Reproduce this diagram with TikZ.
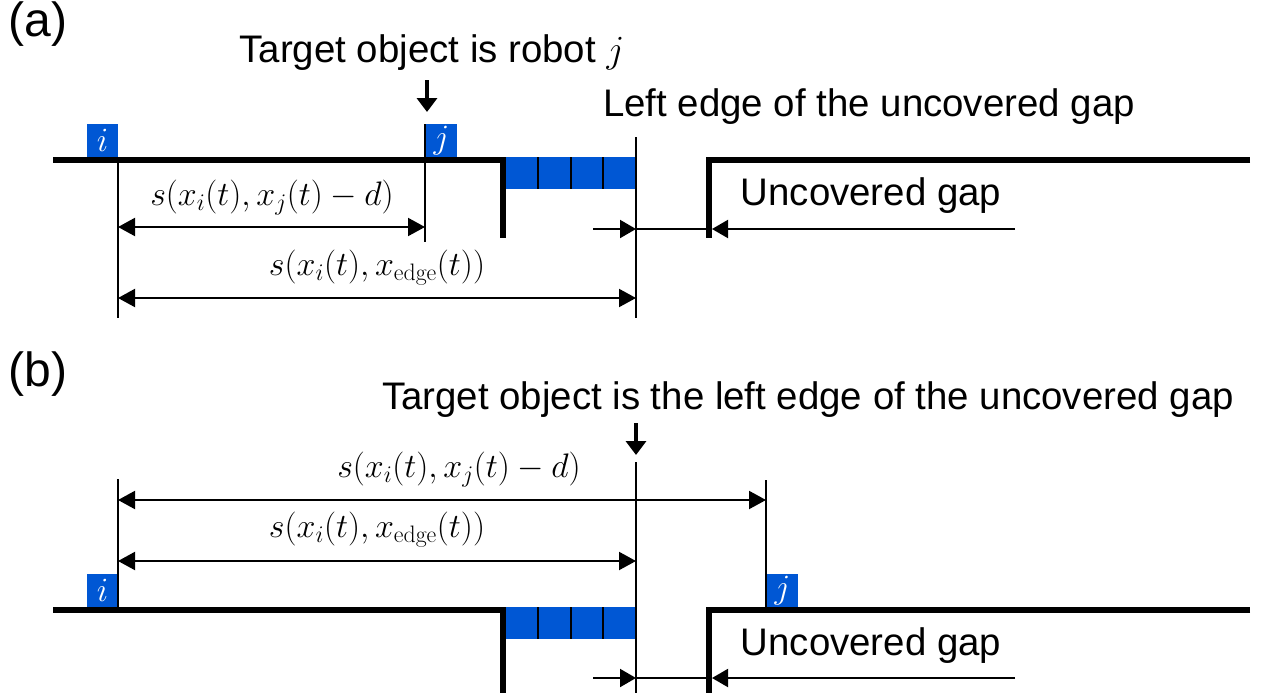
\RequirePackage{fix-cm}
\documentclass[tikz,border=0pt]{standalone}
\usepackage[no-math]{fontspec}
\setmainfont{Liberation Sans}
\usetikzlibrary{arrows.meta}
\definecolor{robotblue}{RGB}{0,87,212}
\tikzset{
  ground/.style={line width=6pt, line join=miter},
  refline/.style={line width=2pt},
  dimline/.style={line width=2pt, {Triangle[length=17pt,width=18pt]}-{Triangle[length=17pt,width=18pt]}},
  gaparrow/.style={line width=2pt, -{Triangle[length=16pt,width=18pt]}},
  plainline/.style={line width=2pt},
  downarrow/.style={line width=4pt, -{Triangle[length=14pt,width=20pt]}},
  robot/.style={rectangle, fill=robotblue, text=white, inner sep=0pt, minimum width=31pt, minimum height=33pt, font=\fontsize{34}{36}\selectfont},
  bar/.style={rectangle, fill=robotblue, inner sep=0pt, minimum width=130pt, minimum height=32pt},
  divider/.style={line width=2pt},
  sanslabel/.style={inner sep=0pt, font=\fontsize{38.4}{40}\selectfont},
  panellabel/.style={inner sep=0pt, font=\fontsize{48}{50}\selectfont},
  mathlabel/.style={inner sep=0pt, font=\fontsize{34}{36}\selectfont},
}
\begin{document}
\begin{tikzpicture}[x=1pt,y=-1pt]
\useasboundingbox (0,0) rectangle (1263,693);
% ---------------- panel (a) ----------------
\node[panellabel] (pa) at (38,24) {(a)};
\node[sanslabel] (ta) at (432,53) {Target object is robot $j$};
\coordinate (da1) at (427,80);
\coordinate (da2) at (427,112);
\draw[downarrow] (da1) -- (da2);
\node[sanslabel] (lea) at (869,107) {Left edge of the uncovered gap};
% blue bar
\node[bar] (bara) at (571,173) {};
\coordinate (bd1t) at (538,157); \coordinate (bd1b) at (538,189);
\coordinate (bd2t) at (571,157); \coordinate (bd2b) at (571,189);
\coordinate (bd3t) at (603,157); \coordinate (bd3b) at (603,189);
\draw[divider] (bd1t) -- (bd1b);
\draw[divider] (bd2t) -- (bd2b);
\draw[divider] (bd3t) -- (bd3b);
% robots
\node[robot] (ria) at (102.5,140.5) {$i$};
\node[robot] (rja) at (441.5,140.5) {$j$};
% ground
\coordinate (gal1) at (53,160); \coordinate (gal2) at (503,160); \coordinate (gal3) at (503,238);
\draw[ground] (gal1) -- (gal2) -- (gal3);
\coordinate (gar1) at (1250,160); \coordinate (gar2) at (709,160); \coordinate (gar3) at (709,238);
\draw[ground] (gar1) -- (gar2) -- (gar3);
% reference lines
\coordinate (vai1) at (118,157); \coordinate (vai2) at (118,318);
\draw[refline] (vai1) -- (vai2);
\coordinate (vaj1) at (425,124); \coordinate (vaj2) at (425,242);
\draw[refline] (vaj1) -- (vaj2);
\coordinate (vae1) at (636,137); \coordinate (vae2) at (636,318);
\draw[refline] (vae1) -- (vae2);
% dimension arrows
\coordinate (a1l) at (118,227); \coordinate (a1r) at (425,227);
\draw[dimline] (a1l) -- (a1r);
\node[mathlabel] (ma1) at (272,198) {$s(x_i(t),x_j(t)-d)$};
\coordinate (a2l) at (118,298); \coordinate (a2r) at (636,298);
\draw[dimline] (a2l) -- (a2r);
\node[mathlabel] (ma2) at (377,268) {$s(x_i(t),x_{\mathrm{edge}}(t))$};
% gap arrows
\coordinate (ga1) at (593,229); \coordinate (ga2) at (636,229);
\coordinate (ga3) at (709,229); \coordinate (ga4) at (1015,229); \coordinate (ga5) at (712,229);
\draw[gaparrow] (ga1) -- (ga2);
\draw[plainline] (ga2) -- (ga3);
\draw[gaparrow] (ga4) -- (ga5);
\node[sanslabel] (uga) at (871,196) {Uncovered gap};
% ---------------- panel (b) ----------------
\node[panellabel] (pb) at (38,374) {(b)};
\node[sanslabel] (tb) at (808,400) {Target object is the left edge of the uncovered gap};
\coordinate (db1) at (636,423);
\coordinate (db2) at (636,455);
\draw[downarrow] (db1) -- (db2);
% blue bar
\node[bar] (barb) at (571,623) {};
\coordinate (be1t) at (538,607); \coordinate (be1b) at (538,639);
\coordinate (be2t) at (571,607); \coordinate (be2b) at (571,639);
\coordinate (be3t) at (603,607); \coordinate (be3b) at (603,639);
\draw[divider] (be1t) -- (be1b);
\draw[divider] (be2t) -- (be2b);
\draw[divider] (be3t) -- (be3b);
% robots
\node[robot] (rib) at (102.5,590.5) {$i$};
\node[robot] (rjb) at (782.5,590.5) {$j$};
% ground
\coordinate (gbl1) at (53,610); \coordinate (gbl2) at (503,610); \coordinate (gbl3) at (503,693);
\draw[ground] (gbl1) -- (gbl2) -- (gbl3);
\coordinate (gbr1) at (1250,610); \coordinate (gbr2) at (709,610); \coordinate (gbr3) at (709,693);
\draw[ground] (gbr1) -- (gbr2) -- (gbr3);
% reference lines
\coordinate (vbi1) at (118,479); \coordinate (vbi2) at (118,607);
\draw[refline] (vbi1) -- (vbi2);
\coordinate (vbj1) at (766,480); \coordinate (vbj2) at (766,607);
\draw[refline] (vbj1) -- (vbj2);
\coordinate (vbe1) at (636,462); \coordinate (vbe2) at (636,693);
\draw[refline] (vbe1) -- (vbe2);
% dimension arrows
\coordinate (b1l) at (118,500); \coordinate (b1r) at (766,500);
\draw[dimline] (b1l) -- (b1r);
\node[mathlabel] (mb1) at (459,470) {$s(x_i(t),x_j(t)-d)$};
\coordinate (b2l) at (118,561); \coordinate (b2r) at (636,561);
\draw[dimline] (b2l) -- (b2r);
\node[mathlabel] (mb2) at (377,530) {$s(x_i(t),x_{\mathrm{edge}}(t))$};
% gap arrows
\coordinate (gb1) at (593,678); \coordinate (gb2) at (636,678);
\coordinate (gb3) at (709,678); \coordinate (gb4) at (1015,678); \coordinate (gb5) at (712,678);
\draw[gaparrow] (gb1) -- (gb2);
\draw[plainline] (gb2) -- (gb3);
\draw[gaparrow] (gb4) -- (gb5);
\node[sanslabel] (ugb) at (871,646) {Uncovered gap};
\end{tikzpicture}
\end{document}
